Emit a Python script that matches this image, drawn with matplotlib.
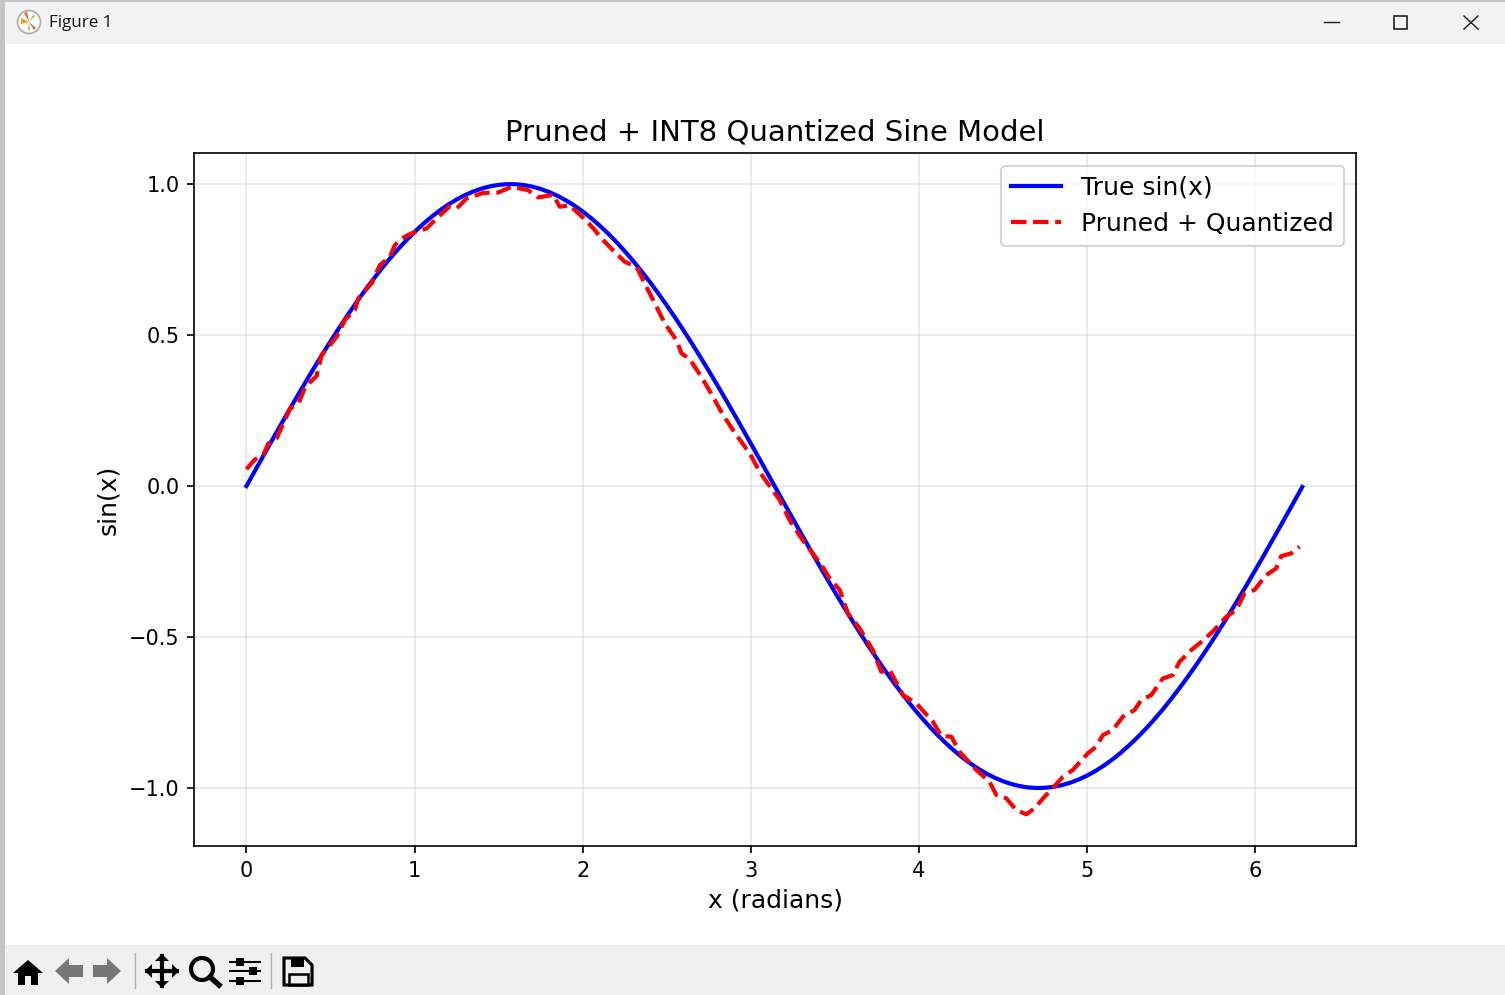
import matplotlib
matplotlib.use('Agg')
import matplotlib.pyplot as plt
from matplotlib.patches import Rectangle, Polygon, Circle

# значения
x_true = [0.0, 0.05, 0.1, 0.15, 0.2, 0.25, 0.3, 0.35, 0.4, 0.45, 0.5, 0.55, 0.6, 0.65, 0.7, 0.75,
          0.8, 0.85, 0.9, 0.95, 1.0, 1.05, 1.1, 1.15, 1.2, 1.25, 1.3, 1.35, 1.4, 1.45, 1.5, 1.55,
          1.6, 1.65, 1.7, 1.75, 1.8, 1.85, 1.9, 1.95, 2.0, 2.05, 2.1, 2.15, 2.2, 2.25, 2.3, 2.35,
          2.4, 2.45, 2.5, 2.55, 2.6, 2.65, 2.7, 2.75, 2.8, 2.85, 2.9, 2.95, 3.0, 3.05, 3.1, 3.15,
          3.2, 3.25, 3.3, 3.35, 3.4, 3.45, 3.5, 3.55, 3.6, 3.65, 3.7, 3.75, 3.8, 3.85, 3.9, 3.95,
          4.0, 4.05, 4.1, 4.15, 4.2, 4.25, 4.3, 4.35, 4.4, 4.45, 4.5, 4.55, 4.6, 4.65, 4.7, 4.75,
          4.8, 4.85, 4.9, 4.95, 5.0, 5.05, 5.1, 5.15, 5.2, 5.25, 5.3, 5.35, 5.4, 5.45, 5.5, 5.55,
          5.6, 5.65, 5.7, 5.75, 5.8, 5.85, 5.9, 5.95, 6.0, 6.05, 6.1, 6.15, 6.2, 6.25, 6.28]
y_true = [0.0, 0.05, 0.0998, 0.1494, 0.1987, 0.2474, 0.2955, 0.3429, 0.3894, 0.435, 0.4794,
          0.5227, 0.5646, 0.6052, 0.6442, 0.6816, 0.7174, 0.7513, 0.7833, 0.8134, 0.8415,
          0.8674, 0.8912, 0.9128, 0.932, 0.949, 0.9636, 0.9757, 0.9854, 0.9927, 0.9975,
          0.9998, 0.9996, 0.9969, 0.9917, 0.984, 0.9738, 0.9613, 0.9463, 0.929, 0.9093,
          0.8874, 0.8632, 0.8369, 0.8085, 0.7781, 0.7457, 0.7115, 0.6755, 0.6378, 0.5985,
          0.5577, 0.5155, 0.472, 0.4274, 0.3817, 0.335, 0.2875, 0.2392, 0.1904, 0.1411,
          0.0915, 0.0416, -0.0084, -0.0584, -0.1082, -0.1577, -0.2069, -0.2555, -0.3035,
          -0.3508, -0.3971, -0.4425, -0.4868, -0.5298, -0.5716, -0.6119, -0.6506, -0.6878,
          -0.7232, -0.7568, -0.7885, -0.8183, -0.846, -0.8716, -0.895, -0.9162, -0.9351,
          -0.9516, -0.9658, -0.9775, -0.9868, -0.9937, -0.9981, -0.9999, -0.9993, -0.9962,
          -0.9905, -0.9825, -0.9719, -0.9589, -0.9436, -0.9258, -0.9058, -0.8835, -0.8589,
          -0.8323, -0.8035, -0.7728, -0.7401, -0.7055, -0.6692, -0.6313, -0.5917, -0.5507,
          -0.5083, -0.4646, -0.4198, -0.3739, -0.3271, -0.2794, -0.2311, -0.1822, -0.1328,
          -0.0831, -0.0332, -0.0032]

x_quant = [0.0, 0.05, 0.10, 0.13, 0.18, 0.21, 0.26, 0.31, 0.35, 0.417, 0.447, 0.536, 0.586,
           0.645, 0.665, 0.744, 0.794, 0.853, 0.883, 0.923, 0.982, 1.071, 1.131, 1.21, 1.25,
           1.309, 1.408, 1.497, 1.577, 1.675, 1.735, 1.824, 1.864, 1.923, 2.023, 2.072, 2.112,
           2.18, 2.25, 2.32, 2.369, 2.429, 2.488, 2.558, 2.587, 2.637, 2.706, 2.775, 2.835,
           2.914, 2.994, 3.053, 3.122, 3.172, 3.231, 3.301, 3.39, 3.429, 3.469, 3.529, 3.578,
           3.647, 3.726, 3.776, 3.826, 3.905, 3.985, 4.083, 4.133, 4.193, 4.242, 4.341, 4.42,
           4.46, 4.52, 4.579, 4.639, 4.688, 4.747, 4.777, 4.856, 4.916, 5.005, 5.055, 5.094,
           5.153, 5.213, 5.282, 5.322, 5.382, 5.451, 5.51, 5.55, 5.62, 5.669, 5.748, 5.828,
           5.887, 5.937, 5.996, 6.065, 6.125, 6.155, 6.214, 6.264]
y_quant = [0.056, 0.088, 0.103, 0.141, 0.158, 0.196, 0.257, 0.274, 0.329, 0.364, 0.434, 0.494,
           0.55, 0.583, 0.621, 0.671, 0.732, 0.759, 0.798, 0.82, 0.837, 0.853, 0.886, 0.927,
           0.919, 0.952, 0.971, 0.972, 0.991, 0.98, 0.956, 0.964, 0.925, 0.93, 0.878, 0.848,
           0.82, 0.781, 0.743, 0.726, 0.671, 0.605, 0.539, 0.483, 0.44, 0.42, 0.362, 0.296,
           0.235, 0.169, 0.108, 0.047, -0.008, -0.046, -0.113, -0.173, -0.239, -0.269, -0.306,
           -0.344, -0.422, -0.471, -0.543, -0.615, -0.609, -0.692, -0.72, -0.78, -0.828, -0.83,
           -0.88, -0.94, -0.979, -1.023, -1.034, -1.073, -1.087, -1.067, -1.029, -1.012, -0.963,
           -0.94, -0.885, -0.863, -0.825, -0.808, -0.764, -0.742, -0.709, -0.692, -0.637, -0.626,
           -0.582, -0.543, -0.521, -0.482, -0.433, -0.411, -0.355, -0.344, -0.295, -0.273,
           -0.232, -0.223, -0.201]

W, H = 1505, 995
fig = plt.figure(figsize=(W / 150, H / 150), dpi=150, facecolor='white')

# основной график
ax = fig.add_axes([194 / W, 1 - 846 / H, (1356 - 194) / W, (846 - 153) / H])
ax.plot(x_true, y_true, color='blue', linewidth=2, label='True sin(x)')
ax.plot(x_quant, y_quant, color='red', linestyle='--', linewidth=2, label='Pruned + Quantized')
ax.set_xlim(-0.312, 6.60)
ax.set_ylim(-1.192, 1.103)
ax.set_title('Pruned + INT8 Quantized Sine Model', fontsize=14)
ax.set_xlabel('x (radians)', fontsize=12)
ax.set_ylabel('sin(x)', fontsize=12)
ax.grid(True, alpha=0.3)
ax.legend(fontsize=12, loc='upper right')

# рамка окна и панель инструментов, координаты в пикселях
ui = fig.add_axes([0, 0, 1, 1], zorder=-1)
ui.set_xlim(0, W)
ui.set_ylim(H, 0)
ui.axis('off')
ui.add_patch(Rectangle((0, 0), W, 44, color='#f3f3f3', lw=0))
ui.add_patch(Rectangle((0, 945), W, 50, color='#f0f0f0', lw=0))
ui.add_patch(Rectangle((0, 0), 5, H, color='#c4c4c4', lw=0))
ui.add_patch(Rectangle((0, 0), W, 2, color='#c4c4c4', lw=0))
ui.text(49, 23, 'Figure 1', fontsize=8.2, family='Open Sans', va='center', color='#111111')

# значок окна
ui.add_patch(Circle((29, 22), 11.5, facecolor='white', edgecolor='#aaaaaa', lw=0.8))
ui.add_patch(Polygon([(29, 22), (21, 18), (21, 24)], color='#f0a020', lw=0))
ui.add_patch(Polygon([(29, 22), (24, 13), (27, 12)], color='#e8601c', lw=0))
ui.add_patch(Polygon([(29, 22), (36, 28), (34, 30)], color='#e8601c', lw=0))
ui.add_patch(Polygon([(29, 22), (33, 15), (35, 16)], color='#a0c040', lw=0))
ui.add_patch(Polygon([(29, 22), (28, 30), (30, 30)], color='#80c060', lw=0))

# кнопки окна
ui.plot([1324, 1339], [22, 22], color='#222222', lw=0.7)
ui.add_patch(Rectangle((1394, 16), 13, 13, fill=False, edgecolor='#222222', lw=0.8))
ui.plot([1464, 1478], [16, 29], color='#222222', lw=0.7)
ui.plot([1464, 1478], [29, 16], color='#222222', lw=0.7)

# кнопки toolbar
ui.add_patch(Polygon([(13, 973), (28, 960), (43, 973), (38, 973), (38, 985), (31, 985), (31, 976),
                      (25, 976), (25, 985), (18, 985), (18, 973)], color='black', lw=0))
ui.add_patch(Polygon([(55, 971), (69, 958), (69, 965), (83, 965), (83, 977), (69, 977), (69, 984)],
                     color='#777777', lw=0))
ui.add_patch(Polygon([(121, 971), (107, 958), (107, 965), (93, 965), (93, 977), (107, 977), (107, 984)],
                     color='#777777', lw=0))
ui.plot([135, 135], [953, 988], color='#b0b0b0', lw=0.7)
ui.plot([147, 177], [971, 971], color='black', lw=2)
ui.plot([162, 162], [956, 986], color='black', lw=2)
ui.add_patch(Polygon([(145, 971), (152, 964), (152, 978)], color='black', lw=0))
ui.add_patch(Polygon([(179, 971), (172, 964), (172, 978)], color='black', lw=0))
ui.add_patch(Polygon([(162, 954), (155, 961), (169, 961)], color='black', lw=0))
ui.add_patch(Polygon([(162, 988), (155, 981), (169, 981)], color='black', lw=0))
ui.add_patch(Circle((202, 969), 11, fill=False, edgecolor='black', lw=2))
ui.plot([210, 219], [977, 985], color='black', lw=2.6)
for sy, sx in [(962, 240), (971, 253), (981, 240)]:
    ui.plot([230, 260], [sy, sy], color='black', lw=1)
    ui.add_patch(Rectangle((sx - 4, sy - 4), 8, 8, color='black', lw=0))
ui.plot([271, 271], [953, 988], color='#b0b0b0', lw=0.7)
ui.add_patch(Polygon([(284, 958), (305, 958), (312, 965), (312, 985), (284, 985)],
                     facecolor='none', edgecolor='black', lw=1.5))
ui.add_patch(Rectangle((291, 958), 13, 9, color='black', lw=0))
ui.add_patch(Rectangle((289, 974), 19, 11, fill=False, edgecolor='black', lw=1.2))

fig.savefig('out.png', dpi=150)
